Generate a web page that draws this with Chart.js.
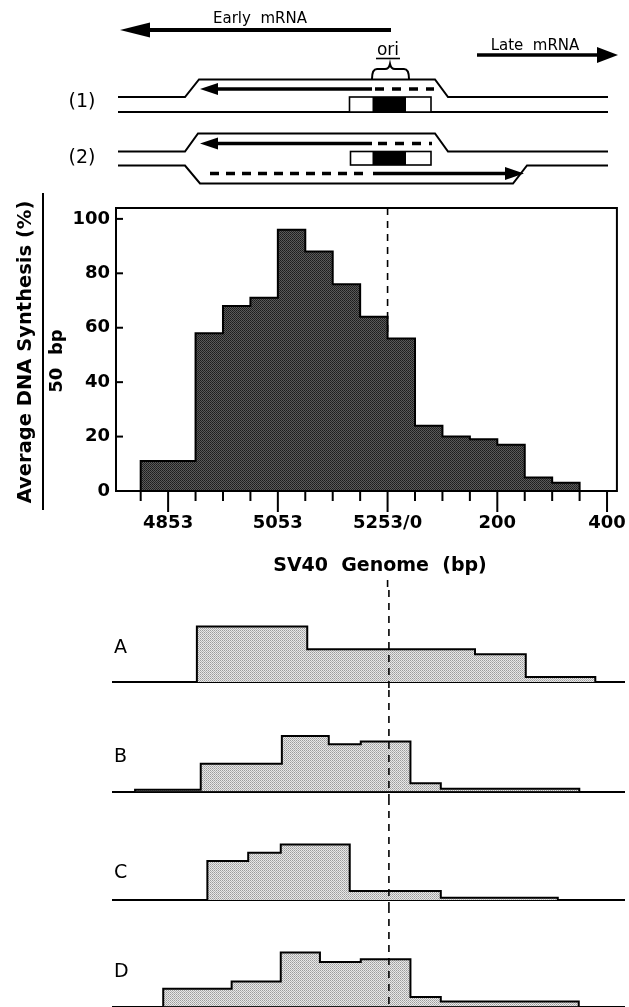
<!DOCTYPE html>
<html>
<head>
<meta charset="utf-8">
<script src="https://cdn.jsdelivr.net/npm/chart.js@4.4.0/dist/chart.umd.min.js"></script>
<style>
  body { margin: 0; background: #fff; }
  #wrap { position: relative; width: 629px; height: 1007px; overflow: hidden; }
  canvas { position: absolute; left: 0; }
</style>
</head>
<body>
<div id="wrap">
  <canvas id="main" width="629" height="590" style="top:0"></canvas>
  <canvas id="pA" width="629" height="100" style="top:590px"></canvas>
  <canvas id="pB" width="629" height="108" style="top:690px"></canvas>
  <canvas id="pC" width="629" height="108" style="top:798px"></canvas>
  <canvas id="pD" width="629" height="101" style="top:906px"></canvas>
</div>
<script>
// positions in bp relative to ori (5253/0)
const binEdges = [-450, -400, -350, -300, -250, -200, -150, -100, -50, 0, 50, 100, 150, 200, 250, 300, 350];
const synthesis = [11, 11, 58, 68, 71, 96, 88, 76, 64, 56, 24, 20, 19, 17, 5, 3];

const xTickValues = [-450, -400, -350, -300, -250, -200, -150, -100, -50, 0, 50, 100, 150, 200, 250, 300, 350, 400];
const xLabelValues = [-400, -200, 0, 200, 400];
const xLabels = ['4853', '5053', '5253/0', '200', '400'];
const yTickValues = [0, 20, 40, 60, 80, 100];

// schematic panels A-D (relative synthesis, tallest step = 100)
const panelAEdges = [-348, -148, 156, 248, 374];
const panelAValues = [100, 59, 50, 9];
const panelBEdges = [-460, -341, -194, -109, -51, 39, 94, 345];
const panelBValues = [3, 50, 100, 85, 90, 15, 5];
const panelCEdges = [-329, -255, -196, -71, 94, 306];
const panelCValues = [70, 85, 100, 16, 4];
const panelDEdges = [-409, -285, -196, -125, -51, 39, 94, 344];
const panelDValues = [32, 45, 97, 80, 85, 17, 9];

const FONT = 'DejaVu Sans';

function stepPoints(edges, values) {
  const pts = [{ x: edges[0], y: 0 }];
  values.forEach((v, i) => pts.push({ x: edges[i], y: v }));
  pts.push({ x: edges[edges.length - 1], y: 0 });
  return pts;
}

function makePattern(ctx, colors) {
  const c = document.createElement('canvas');
  c.width = 2; c.height = 2;
  const g = c.getContext('2d');
  [[0, 0], [1, 0], [0, 1], [1, 1]].forEach((p, i) => {
    g.fillStyle = colors[i];
    g.fillRect(p[0], p[1], 1, 1);
  });
  return ctx.createPattern(c, 'repeat');
}

function dashedV(ctx, x, y0, y1) {
  ctx.save();
  ctx.strokeStyle = '#000';
  ctx.lineWidth = 1.6;
  ctx.setLineDash([7, 6]);
  ctx.beginPath();
  ctx.moveTo(x, y0);
  ctx.lineTo(x, y1);
  ctx.stroke();
  ctx.restore();
}

function poly(ctx, pts, w) {
  ctx.beginPath();
  ctx.moveTo(pts[0][0], pts[0][1]);
  pts.slice(1).forEach(p => ctx.lineTo(p[0], p[1]));
  ctx.lineWidth = w;
  ctx.stroke();
}

function arrow(ctx, x0, x1, y, w, headLen, headHalf) {
  const dir = Math.sign(x1 - x0);
  ctx.lineWidth = w;
  ctx.beginPath();
  ctx.moveTo(x0, y);
  ctx.lineTo(x1 - dir * headLen, y);
  ctx.stroke();
  ctx.beginPath();
  ctx.moveTo(x1, y);
  ctx.lineTo(x1 - dir * headLen, y - headHalf);
  ctx.lineTo(x1 - dir * headLen, y + headHalf);
  ctx.closePath();
  ctx.fill();
}

function dashes(ctx, x0, x1, y, w, pattern) {
  ctx.save();
  ctx.lineWidth = w;
  ctx.setLineDash(pattern);
  ctx.beginPath();
  ctx.moveTo(x0, y);
  ctx.lineTo(x1, y);
  ctx.stroke();
  ctx.restore();
}

function oriBox(ctx, x0, x1, y0, y1, b0, b1) {
  ctx.fillStyle = '#fff';
  ctx.fillRect(x0, y0, x1 - x0, y1 - y0);
  ctx.fillStyle = '#000';
  ctx.fillRect(b0, y0, b1 - b0, y1 - y0);
  ctx.lineWidth = 1.6;
  ctx.strokeRect(x0, y0, x1 - x0, y1 - y0);
}

function drawSchematic(ctx) {
  ctx.save();
  ctx.strokeStyle = '#000';
  ctx.fillStyle = '#000';
  ctx.lineCap = 'butt';

  // transcripts
  arrow(ctx, 391, 120, 30, 4, 30, 7.5);
  arrow(ctx, 477, 618, 55, 3.5, 21, 8);
  ctx.font = '15px ' + FONT;
  ctx.textAlign = 'center';
  ctx.textBaseline = 'alphabetic';
  ctx.fillText('Early  mRNA', 260, 23);
  ctx.fillText('Late  mRNA', 535, 50);

  // ori label and brace
  ctx.font = '17px ' + FONT;
  ctx.fillText('ori', 388, 55);
  ctx.lineWidth = 1.6;
  ctx.beginPath(); ctx.moveTo(376, 58.5); ctx.lineTo(400, 58.5); ctx.stroke();
  ctx.lineWidth = 2;
  ctx.beginPath();
  ctx.moveTo(372, 79);
  ctx.quadraticCurveTo(372, 69, 377, 69);
  ctx.lineTo(385, 69);
  ctx.quadraticCurveTo(389, 69, 390, 64);
  ctx.quadraticCurveTo(391, 69, 395, 69);
  ctx.lineTo(404, 69);
  ctx.quadraticCurveTo(409, 69, 409, 79);
  ctx.stroke();

  // (1) bubble
  poly(ctx, [[118, 97], [185, 97], [199, 79.5], [435, 79.5], [448, 97], [608, 97]], 2);
  poly(ctx, [[118, 112], [608, 112]], 2);
  arrow(ctx, 372, 200, 89, 3.5, 18, 6);
  dashes(ctx, 375, 434, 89, 3.5, [9, 8]);
  oriBox(ctx, 349.5, 431, 97, 112, 372.5, 406);

  // (2) bubble
  poly(ctx, [[118, 151.5], [185, 151.5], [198, 133.5], [435, 133.5], [448, 151.5], [608, 151.5]], 2);
  poly(ctx, [[118, 165.5], [185, 165.5], [200, 183.5], [513, 183.5], [527, 165.5], [608, 165.5]], 2);
  arrow(ctx, 372, 200, 143.5, 3.5, 18, 6);
  dashes(ctx, 378, 432, 143.5, 3.5, [9, 8]);
  oriBox(ctx, 350.5, 431, 151.5, 165, 372.5, 406);
  dashes(ctx, 210, 368, 173.5, 3.5, [9, 7]);
  arrow(ctx, 373, 524, 173.5, 3.5, 19, 6.5);

  ctx.font = '19px ' + FONT;
  ctx.textAlign = 'center';
  ctx.textBaseline = 'middle';
  ctx.fillText('(1)', 82, 102);
  ctx.fillText('(2)', 82, 158);
  ctx.restore();
}

const mainCtx = document.getElementById('main').getContext('2d');

const mainDecor = {
  id: 'mainDecor',
  beforeDatasetsDraw(chart) {
    const a = chart.chartArea;
    dashedV(chart.ctx, chart.scales.x.getPixelForValue(0), a.top, a.bottom);
  },
  afterDraw(chart) {
    const ctx = chart.ctx, a = chart.chartArea;
    const xs = chart.scales.x, ys = chart.scales.y;
    ctx.save();
    ctx.strokeStyle = '#000';
    ctx.lineWidth = 2;
    ctx.strokeRect(a.left, a.top, a.right - a.left, a.bottom - a.top);
    // inward y ticks
    ys.ticks.forEach(t => {
      if (t.value === 0) return;
      const y = ys.getPixelForValue(t.value);
      ctx.beginPath(); ctx.moveTo(a.left, y); ctx.lineTo(a.left + 7, y); ctx.stroke();
    });
    // outward x ticks, long at labelled positions
    xs.ticks.forEach(t => {
      const x = xs.getPixelForValue(t.value);
      const len = xLabelValues.includes(t.value) ? 21 : 10;
      ctx.beginPath(); ctx.moveTo(x, a.bottom); ctx.lineTo(x, a.bottom + len); ctx.stroke();
    });
    // y title as a fraction
    ctx.fillStyle = '#000';
    ctx.textAlign = 'center';
    ctx.textBaseline = 'alphabetic';
    ctx.save();
    ctx.translate(31, 352);
    ctx.rotate(-Math.PI / 2);
    ctx.font = 'bold 19.5px ' + FONT;
    ctx.fillText('Average DNA Synthesis (%)', 0, 0);
    ctx.restore();
    ctx.save();
    ctx.translate(62, 361);
    ctx.rotate(-Math.PI / 2);
    ctx.font = 'bold 18px ' + FONT;
    ctx.fillText('50  bp', 0, 0);
    ctx.restore();
    ctx.beginPath(); ctx.moveTo(43, 193); ctx.lineTo(43, 510); ctx.stroke();
    // x title
    ctx.font = 'bold 19px ' + FONT;
    ctx.fillText('SV40  Genome  (bp)', 380, 571);
    ctx.restore();
    dashedV(ctx, xs.getPixelForValue(0), 580, chart.height);
    drawSchematic(ctx);
  }
};

new Chart(mainCtx, {
  type: 'line',
  data: {
    datasets: [{
      data: stepPoints(binEdges, synthesis),
      stepped: true,
      fill: 'origin',
      backgroundColor: makePattern(mainCtx, ['#1c1c1c', '#5a5a5a', '#5a5a5a', '#262626']),
      borderColor: '#000',
      borderWidth: 2,
      pointRadius: 0
    }]
  },
  options: {
    responsive: false,
    animation: false,
    layout: { padding: { top: 208, right: 9, left: 0, bottom: 0 } },
    plugins: { legend: { display: false }, tooltip: { enabled: false } },
    scales: {
      x: {
        type: 'linear',
        min: -495,
        max: 418,
        afterBuildTicks: s => { s.ticks = xTickValues.map(v => ({ value: v })); },
        afterFit: s => { s.height = 99; },
        ticks: {
          autoSkip: false,
          maxRotation: 0,
          padding: 3,
          color: '#000',
          font: { family: FONT, weight: 'bold', size: 18 },
          callback: v => {
            const i = xLabelValues.indexOf(v);
            return i >= 0 ? xLabels[i] : '';
          }
        },
        // tick marks drawn by the plugin; this only spaces the labels
        grid: { display: true, drawOnChartArea: false, drawTicks: true, tickLength: 19, color: 'rgba(0,0,0,0)' },
        border: { display: true, color: '#000', width: 2 }
      },
      y: {
        min: 0,
        max: 104,
        afterBuildTicks: s => { s.ticks = yTickValues.map(v => ({ value: v })); },
        afterFit: s => { s.width = 116; },
        ticks: {
          padding: 6,
          color: '#000',
          font: { family: FONT, weight: 'bold', size: 18 }
        },
        grid: { display: false, drawTicks: false },
        border: { display: true, color: '#000', width: 2 }
      }
    }
  },
  plugins: [mainDecor]
});

function makePanel(id, letter, edges, values, padTop, padBottom, letterOffset) {
  const ctx = document.getElementById(id).getContext('2d');
  new Chart(ctx, {
    type: 'line',
    data: {
      datasets: [{
        data: stepPoints(edges, values),
        stepped: true,
        fill: 'origin',
        backgroundColor: makePattern(ctx, ['#9c9c9c', '#e8e8e8', '#e8e8e8', '#b4b4b4']),
        borderColor: '#000',
        borderWidth: 2,
        pointRadius: 0
      }]
    },
    options: {
      responsive: false,
      animation: false,
      layout: { padding: { top: padTop, bottom: padBottom, left: 113, right: 5 } },
      plugins: { legend: { display: false }, tooltip: { enabled: false } },
      scales: {
        x: {
          type: 'linear',
          min: -500,
          max: 426,
          afterFit: s => { s.height = 0; },
          ticks: { display: false },
          grid: { display: false, drawTicks: false },
          border: { display: true, color: '#000', width: 2 }
        },
        y: { display: false, min: 0, max: 108 }
      }
    },
    plugins: [{
      id: 'panelDecor',
      afterDatasetsDraw(chart) {
        dashedV(chart.ctx, chart.scales.x.getPixelForValue(0), 0, chart.height);
      },
      afterDraw(chart) {
        const c = chart.ctx;
        c.save();
        c.fillStyle = '#000';
        c.font = '19px ' + FONT;
        c.textAlign = 'left';
        c.textBaseline = 'middle';
        c.fillText(letter, 114, chart.chartArea.bottom - letterOffset);
        c.restore();
      }
    }]
  });
}

makePanel('pA', 'A', panelAEdges, panelAValues, 32, 8, 34);
makePanel('pB', 'B', panelBEdges, panelBValues, 41.5, 6.5, 34);
makePanel('pC', 'C', panelCEdges, panelCValues, 42, 6, 26.5);
makePanel('pD', 'D', panelDEdges, panelDValues, 40.5, 0.5, 34);
</script>
</body>
</html>
